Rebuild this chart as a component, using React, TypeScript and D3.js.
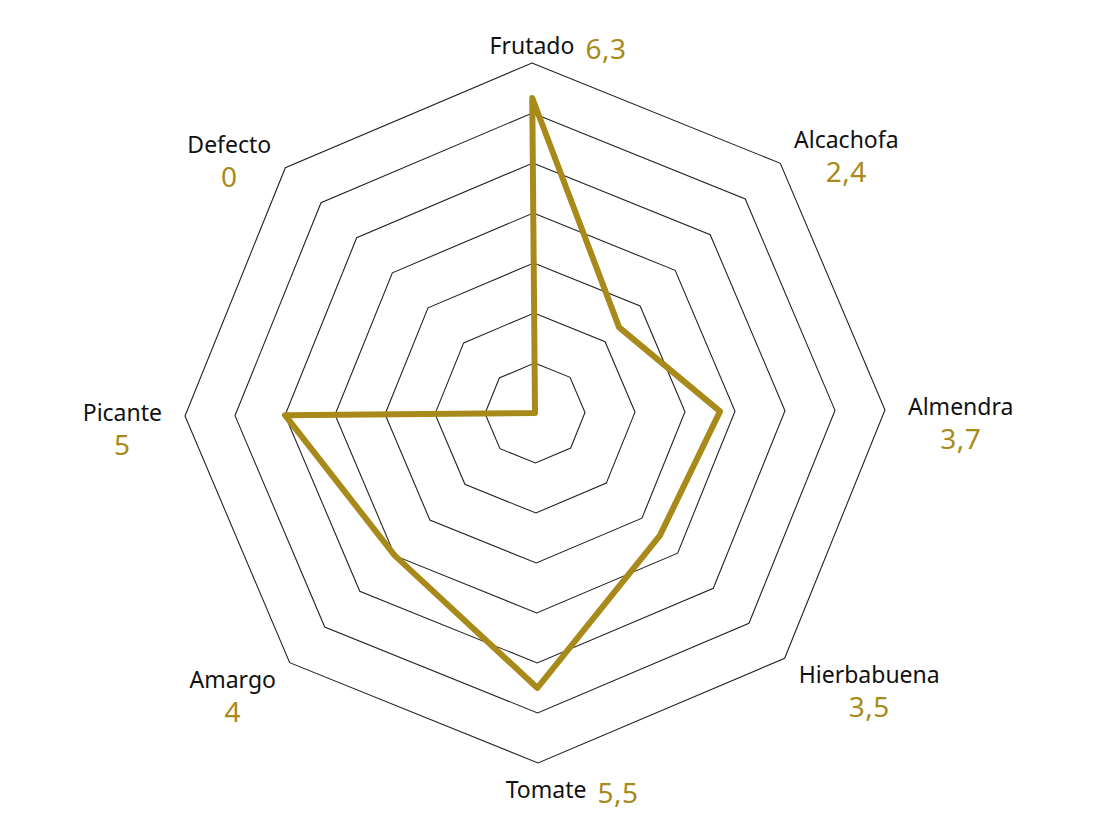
import React, { useEffect, useRef } from "react";
import * as d3 from "d3";

const axes = ["Frutado", "Alcachofa", "Almendra", "Hierbabuena", "Tomate", "Amargo", "Picante", "Defecto"];
const values = [6.3, 2.4, 3.7, 3.5, 5.5, 4, 5, 0];
const valueLabels = ["6,3", "2,4", "3,7", "3,5", "5,5", "4", "5", "0"];
const ringLevels = [1, 2, 3, 4, 5, 6, 7];

const width = 1100;
const height = 827;
const cx = 535;
const cy = 413;
const radius = 350;
const gold = "#a88a1a";
const font = "'Noto Sans', sans-serif";

const App: React.FC = () => {
  const svgRef = useRef<SVGSVGElement | null>(null);

  useEffect(() => {
    const svg = d3.select(svgRef.current);
    svg.selectAll("*").remove();

    const rot = (-0.5 * Math.PI) / 180;
    const angle = (i: number) => (i * 2 * Math.PI) / axes.length + rot;
    const r = d3.scaleLinear().domain([0, 7]).range([0, radius]);

    const g = svg.append("g").attr("transform", `translate(${cx}, ${cy})`);

    // grid rings
    ringLevels.forEach(level => {
      const ring = d3
        .lineRadial<string>()
        .angle((d, i) => angle(i))
        .radius(() => r(level))
        .curve(d3.curveLinearClosed);
      g.append("path")
        .attr("d", ring(axes))
        .attr("fill", "none")
        .attr("stroke", "#222")
        .attr("stroke-width", 1.1);
    });

    // data line
    const line = d3
      .lineRadial<number>()
      .angle((d, i) => angle(i))
      .radius(d => r(d))
      .curve(d3.curveLinearClosed);
    g.append("path")
      .attr("d", line(values))
      .attr("fill", "none")
      .attr("stroke", gold)
      .attr("stroke-width", 6)
      .attr("stroke-linejoin", "round");

    // labels
    axes.forEach((name, i) => {
      const a = angle(i);
      const dx = Math.sin(a);
      const dy = -Math.cos(a);
      const vx = r(7) * dx;
      const vy = r(7) * dy;

      if (Math.abs(dx) < 0.1) {
        const base = dy < 0 ? vy - 9 : vy + 35;
        const shift = dy < 0 ? 0 : 8;
        const t = g.append("text")
          .attr("x", vx + shift)
          .attr("y", base)
          .attr("text-anchor", "middle")
          .style("font-family", font)
          .style("font-size", "23px")
          .attr("fill", "#111")
          .text(name);
        const w = (t.node() as SVGTextElement).getComputedTextLength();
        g.append("text")
          .attr("x", vx + shift + w / 2 + 11)
          .attr("y", base + 5)
          .style("font-family", font)
          .style("font-size", "28px")
          .style("letter-spacing", "0.5px")
          .attr("fill", gold)
          .text(valueLabels[i]);
        return;
      }

      const lg = g.append("g");
      lg.append("text")
        .attr("text-anchor", "middle")
        .style("font-family", font)
        .style("font-size", "23px")
        .attr("fill", "#111")
        .text(name);
      lg.append("text")
        .attr("y", 34)
        .attr("text-anchor", "middle")
        .style("font-family", font)
        .style("font-size", "28px")
        .style("letter-spacing", "0.5px")
        .attr("fill", gold)
        .text(valueLabels[i]);
      const w = (lg.node() as SVGGElement).getBBox().width;
      const gap = 31 * Math.abs(dx) - 8;
      const tx = vx + Math.sign(dx) * (gap + w / 2);
      const ty = vy + 5 + 28 * dy;
      lg.attr("transform", `translate(${tx}, ${ty})`);
    });
  }, []);

  return (
    <svg
      ref={svgRef}
      width={width}
      height={height}
      style={{ position: "absolute", left: 0, top: 0, background: "#fff" }}
    ></svg>
  );
};

export default App;
